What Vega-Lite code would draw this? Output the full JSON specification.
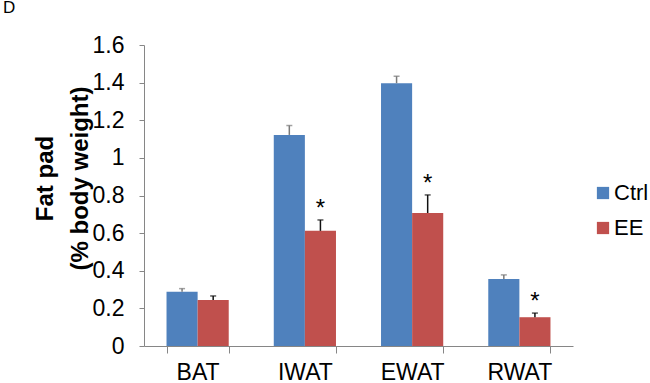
{
  "$schema": "https://vega.github.io/schema/vega-lite/v6.json",
  "width": 429,
  "height": 301,
  "autosize": {"type": "none"},
  "padding": {"left": 144, "top": 45, "right": 77, "bottom": 37},
  "background": "white",
  "config": {"font": "Liberation Sans", "view": {"stroke": null}},
  "title": {"text": "D", "anchor": "start", "frame": "group", "dx": -141, "offset": 4, "baseline": "alphabetic", "fontSize": 17, "fontWeight": "normal", "color": "#000"},
  "data": {"values": [
    {"tissue": "BAT", "group": "Ctrl", "value": 0.289, "err": 0.305, "sig": ""},
    {"tissue": "BAT", "group": "EE", "value": 0.245, "err": 0.266, "sig": ""},
    {"tissue": "IWAT", "group": "Ctrl", "value": 1.122, "err": 1.172, "sig": ""},
    {"tissue": "IWAT", "group": "EE", "value": 0.612, "err": 0.67, "sig": "*"},
    {"tissue": "EWAT", "group": "Ctrl", "value": 1.397, "err": 1.434, "sig": ""},
    {"tissue": "EWAT", "group": "EE", "value": 0.707, "err": 0.803, "sig": "*"},
    {"tissue": "RWAT", "group": "Ctrl", "value": 0.356, "err": 0.378, "sig": ""},
    {"tissue": "RWAT", "group": "EE", "value": 0.153, "err": 0.175, "sig": "*"}
  ]},
  "encoding": {
    "x": {"field": "tissue", "type": "nominal", "sort": ["BAT", "IWAT", "EWAT", "RWAT"],
      "scale": {"paddingInner": 0.42, "paddingOuter": 0.21},
      "axis": {"title": null, "labelFontSize": 23, "labelColor": "#000", "labelPadding": 8, "labelAngle": 0, "tickBand": "extent", "tickSize": 7, "tickColor": "#868686", "domainColor": "#868686", "grid": false}},
    "xOffset": {"field": "group", "type": "nominal", "sort": ["Ctrl", "EE"], "scale": {"paddingInner": 0, "paddingOuter": 0}}
  },
  "layer": [
    {
      "mark": {"type": "bar"},
      "encoding": {
        "y": {"field": "value", "type": "quantitative", "scale": {"domain": [0, 1.6]},
          "axis": {"values": [0, 0.2, 0.4, 0.6, 0.8, 1, 1.2, 1.4, 1.6], "format": "~g", "grid": false, "labelOverlap": false,
            "labelFontSize": 23, "labelColor": "#000", "labelPadding": 15, "tickSize": 5, "tickColor": "#868686", "domainColor": "#868686",
            "title": ["Fat pad", "(% body weight)"], "titleFontSize": 24, "titleFontWeight": "bold", "titleColor": "#000",
            "titleX": -87, "titleY": 133, "titleLineHeight": 35, "titleBaseline": "bottom", "titleAngle": -90}},
        "color": {"field": "group", "type": "nominal", "sort": ["Ctrl", "EE"],
          "scale": {"domain": ["Ctrl", "EE"], "range": ["#4F81BD", "#C0504D"]},
          "legend": {"orient": "none", "legendX": 448, "legendY": 137, "title": null, "labelFontSize": 22, "labelColor": "#000",
            "symbolType": "square", "symbolSize": 150, "symbolStrokeWidth": 0, "rowPadding": 13, "labelOffset": 0, "padding": 0}}
      }
    },
    {
      "mark": {"type": "rule", "strokeWidth": 1.5},
      "encoding": {
        "y": {"field": "value", "type": "quantitative",
          "axis": {"values": [0, 0.2, 0.4, 0.6, 0.8, 1, 1.2, 1.4, 1.6], "format": "~g", "grid": false, "labelOverlap": false,
            "labelFontSize": 23, "labelColor": "#000", "labelPadding": 15, "tickSize": 5, "tickColor": "#868686", "domainColor": "#868686",
            "title": ["Fat pad", "(% body weight)"], "titleFontSize": 24, "titleFontWeight": "bold", "titleColor": "#000",
            "titleX": -87, "titleY": 133, "titleLineHeight": 35, "titleBaseline": "bottom", "titleAngle": -90}},
        "y2": {"field": "err"},
        "color": {"condition": {"test": "datum.group === 'Ctrl'", "value": "#7a7a7a"}, "value": "#111"}
      }
    },
    {
      "mark": {"type": "tick", "orient": "horizontal", "size": 6, "thickness": 1.5},
      "encoding": {
        "y": {"field": "err", "type": "quantitative",
          "axis": {"values": [0, 0.2, 0.4, 0.6, 0.8, 1, 1.2, 1.4, 1.6], "format": "~g", "grid": false, "labelOverlap": false,
            "labelFontSize": 23, "labelColor": "#000", "labelPadding": 15, "tickSize": 5, "tickColor": "#868686", "domainColor": "#868686",
            "title": ["Fat pad", "(% body weight)"], "titleFontSize": 24, "titleFontWeight": "bold", "titleColor": "#000",
            "titleX": -87, "titleY": 133, "titleLineHeight": 35, "titleBaseline": "bottom", "titleAngle": -90}},
        "color": {"condition": {"test": "datum.group === 'Ctrl'", "value": "#7a7a7a"}, "value": "#111"}
      }
    },
    {
      "mark": {"type": "text", "fontSize": 24, "baseline": "middle", "dy": -11, "color": "#000"},
      "encoding": {
        "y": {"field": "err", "type": "quantitative",
          "axis": {"values": [0, 0.2, 0.4, 0.6, 0.8, 1, 1.2, 1.4, 1.6], "format": "~g", "grid": false, "labelOverlap": false,
            "labelFontSize": 23, "labelColor": "#000", "labelPadding": 15, "tickSize": 5, "tickColor": "#868686", "domainColor": "#868686",
            "title": ["Fat pad", "(% body weight)"], "titleFontSize": 24, "titleFontWeight": "bold", "titleColor": "#000",
            "titleX": -87, "titleY": 133, "titleLineHeight": 35, "titleBaseline": "bottom", "titleAngle": -90}},
        "text": {"field": "sig"}
      }
    }
  ]
}
